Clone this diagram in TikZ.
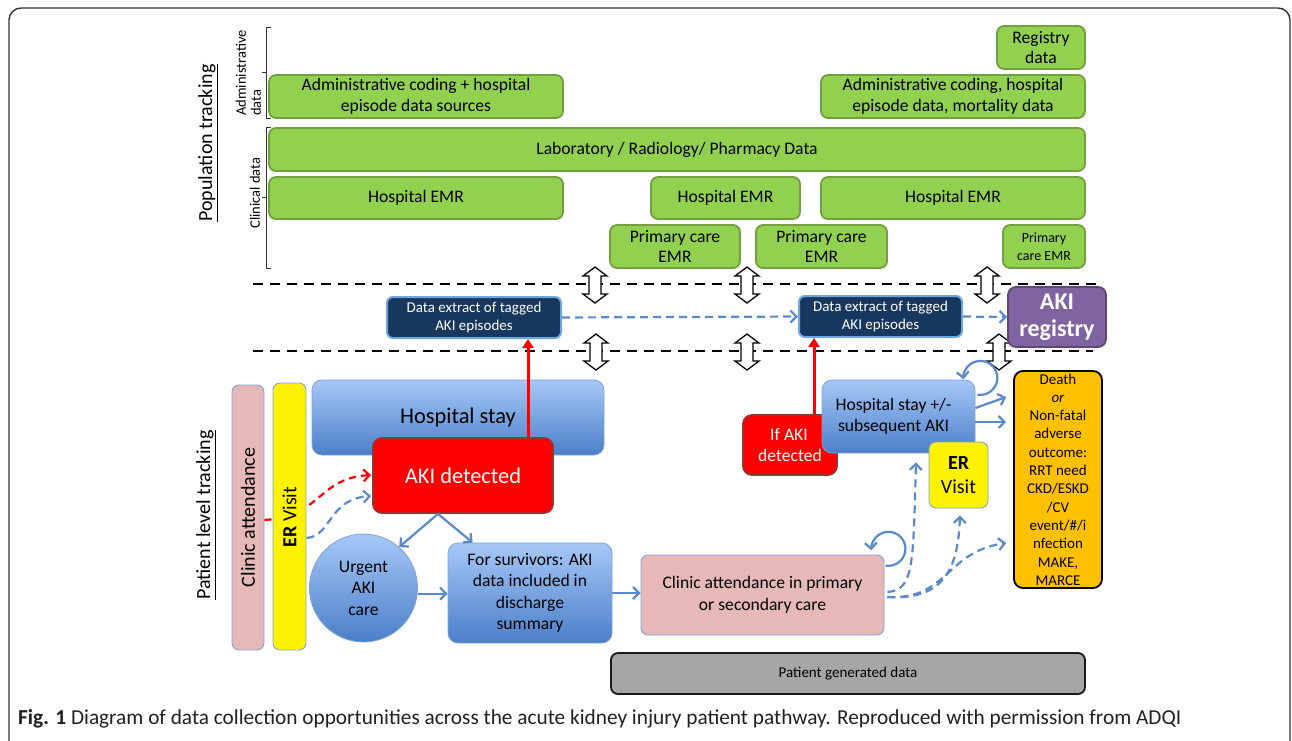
\documentclass[tikz,border=0pt]{standalone}
\usepackage{fontspec}
\setmainfont{Carlito}
\usetikzlibrary{arrows.meta}
\definecolor{ggreen}{HTML}{92D050}
\definecolor{gborder}{HTML}{72A03C}
\definecolor{navy}{HTML}{17375E}
\definecolor{navyborder}{HTML}{6FA7DC}
\definecolor{purp}{HTML}{8064A2}
\definecolor{purpborder}{HTML}{5C4776}
\definecolor{redborder}{HTML}{943634}
\definecolor{pinkfill}{HTML}{E6B9B8}
\definecolor{lightborder}{HTML}{7FA3D6}
\definecolor{bluetop}{HTML}{A6C8F7}
\definecolor{bluebot}{HTML}{4B7FC9}
\definecolor{cblue}{HTML}{5A8ACB}
\definecolor{orangefill}{HTML}{FFC000}
\definecolor{greyfill}{HTML}{A6A6A6}
\definecolor{framecol}{HTML}{333333}
\definecolor{captxt}{HTML}{231F20}
\begin{document}
\begin{tikzpicture}[x=1pt,y=1pt,
  gbox/.style={draw=gborder, fill=ggreen, line width=1.8pt, rounded corners=7pt, inner sep=0pt, align=center, font=\fontsize{17.6}{20.5}\selectfont},
  navybox/.style={draw=navyborder, fill=navy, line width=2pt, rounded corners=6pt, inner sep=0pt, align=center, text=white, font=\fontsize{15}{18}\selectfont},
  bluebox/.style={draw=lightborder, line width=0.8pt, top color=bluetop, bottom color=bluebot, rounded corners=10pt, inner sep=0pt, align=center, font=\fontsize{17.6}{21.5}\selectfont},
  redbox/.style={draw=redborder, fill=red, line width=1.8pt, rounded corners=9pt, inner sep=0pt, align=center, text=white},
  pinkbox/.style={draw=lightborder, fill=pinkfill, line width=0.9pt, rounded corners=7pt, inner sep=0pt, align=center},
  yelbox/.style={draw=lightborder, fill=yellow, line width=0.9pt, rounded corners=7pt, inner sep=0pt, align=center},
  sidelabel/.style={rotate=90, inner sep=0pt, font=\fontsize{20}{24}\selectfont},
  smalllabel/.style={rotate=90, inner sep=0pt, font=\fontsize{14.5}{15}\selectfont},
  brk/.style={draw=framecol, line width=0.9pt},
  blkdash/.style={draw=black, line width=2.6pt, dash pattern=on 10pt off 7pt},
  bline/.style={draw=cblue, line width=2.2pt, -{Straight Barb[length=6pt,width=12pt]}},
  bdash/.style={bline, dash pattern=on 8pt off 5pt},
  redarr/.style={draw=red, line width=3pt, -{Triangle[length=9pt,width=11pt]}},
  reddash/.style={draw=red, line width=2.2pt, dash pattern=on 7pt off 5pt, -{Straight Barb[length=6pt,width=12pt]}},
  dbl/.pic={\draw[line width=1.3pt, fill=white] (0,18) -- (12,9) -- (6,9) -- (6,-9) -- (12,-9) -- (0,-18) -- (-12,-9) -- (-6,-9) -- (-6,9) -- (-12,9) -- cycle;}
]
\useasboundingbox (0,0) rectangle (1292,-740);
% outer frame
\draw[draw=framecol, line width=1.4pt, rounded corners=12pt] (9,-8) rectangle (1290,-780);

% side labels and brackets
\node[sidelabel] (poptrack) at (208,-143) {\underline{Population tracking}};
\node[sidelabel] (pattrack) at (206,-515) {\underline{Patient level tracking}};
\node[smalllabel, align=left] (admlabel) at (248.5,-73) {Administrative\\data};
\node[smalllabel] (clinlabel) at (255,-193) {Clinical data};
\draw[brk] (271,-27) -- (266,-27) -- (266,-118) -- (271,-118) (266,-72) -- (262,-72);
\draw[brk] (271,-127) -- (266,-127) -- (266,-268) -- (271,-268) (266,-197) -- (262,-197);

% green data boxes
\node[gbox, minimum width=294pt, minimum height=43pt] (adm1) at (416,-96.5) {Administrative coding + hospital\\episode data sources};
\node[gbox, minimum width=816pt, minimum height=43pt] (lab) at (677,-149.5) {Laboratory / Radiology/ Pharmacy Data};
\node[gbox, minimum width=294pt, minimum height=42pt] (emr1) at (416,-198) {Hospital EMR};
\node[gbox, minimum width=149pt, minimum height=42pt] (emr2) at (725.5,-198) {Hospital EMR};
\node[gbox, minimum width=264pt, minimum height=42pt] (emr3) at (953,-198) {Hospital EMR};
\node[gbox, minimum width=130pt, minimum height=43pt] (pc1) at (675,-246.5) {Primary care\\EMR};
\node[gbox, minimum width=131pt, minimum height=43pt] (pc2) at (821.5,-246.5) {Primary care\\EMR};
\node[gbox, minimum width=82pt, minimum height=43pt, font=\fontsize{14}{18.5}\selectfont] (pc3) at (1044,-246.5) {Primary\\care EMR};
\node[gbox, minimum width=88pt, minimum height=43pt] (reg) at (1041,-47.5) {Registry\\data};
\node[gbox, minimum width=264pt, minimum height=43pt] (adm2) at (953,-96.5) {Administrative coding, hospital\\episode data, mortality data};

% dashed separator lines
\draw[blkdash] (253,-284) -- (1097,-284);
\draw[blkdash] (253,-351) -- (1093,-351);

% double arrows
\pic (da1) at (595,-285) {dbl};
\pic (da2) at (747,-285) {dbl};
\pic (da3) at (987,-285) {dbl};
\pic (da4) at (596,-352) {dbl};
\pic (da5) at (747,-352) {dbl};
\pic (da6) at (999,-352) {dbl};

% extraction boxes and registry
\node[navybox, minimum width=174pt, minimum height=41pt] (ext1) at (474,-317.5) {Data extract of tagged\\AKI episodes};
\node[navybox, minimum width=163pt, minimum height=41pt] (ext2) at (880.5,-316.5) {Data extract of tagged\\AKI episodes};
\node[draw=purpborder, fill=purp, line width=1.8pt, rounded corners=8pt, inner sep=0pt, align=center, text=white, font=\bfseries\fontsize{24}{27}\selectfont, minimum width=98pt, minimum height=60pt] (reg2) at (1057,-317) {AKI\\registry};
\draw[bdash] (ext1.east) -- (ext2.west);
\draw[bdash] (ext2.east) -- (reg2.west);

% patient level: left columns
\node[pinkbox, minimum width=32pt, minimum height=265pt] (clin) at (248,-517.5) {};
\node[sidelabel] (clintext) at (248,-517.5) {Clinic attendance};
\draw[reddash] ([yshift=-2.5pt]clin.east) .. controls (322,-516) and (318,-478) .. (371,-475);
\node[yelbox, minimum width=33pt, minimum height=267pt] (er1) at (289.5,-516.5) {};
\node[sidelabel] (er1text) at (289.5,-517) {\textbf{ER} Visit};
\draw[bdash] ([yshift=-21.5pt]er1.east) .. controls (332,-536) and (328,-499) .. (371,-496);

% hospital stay and AKI detected
\node[bluebox, minimum width=292pt, minimum height=75pt, font=\fontsize{22.4}{26}\selectfont] (hs1) at (458,-417.5) {Hospital stay};
\node[redbox, minimum width=180pt, minimum height=75pt, font=\fontsize{22.4}{26}\selectfont] (aki) at (463,-475.5) {AKI detected};
\draw[redarr] ([xshift=65pt]aki.north) -- ([xshift=54pt]ext1.south);

\node[circle, draw=lightborder, line width=0.8pt, top color=bluetop, bottom color=bluebot, inner sep=0pt, minimum size=108pt, align=center, font=\fontsize{17.6}{21.5}\selectfont] (urg) at (363.5,-588) {Urgent\\AKI\\care};
\node[bluebox, minimum width=164pt, minimum height=100pt] (surv) at (530,-593) {For survivors: AKI\\data included in\\discharge\\summary};
\draw[bline] ([xshift=-25pt]aki.south) -- (urg.49);
\draw[bline] ([xshift=-25pt]aki.south) -- ([xshift=25pt]surv.north west);
\draw[bline] (urg.-6) -- (urg.-6 -| surv.west);

% right side
\node[redbox, minimum width=94pt, minimum height=60pt, font=\fontsize{17.6}{21}\selectfont] (ifaki) at (790,-445) {\hspace*{-2pt}If AKI\\detected};
\draw[redarr] ([xshift=24pt]ifaki.north) -- ([xshift=-66.5pt]ext2.south);
\node[bluebox, minimum width=153pt, minimum height=73pt] (hs2) at (898.5,-416.5) {\hspace*{-10pt}Hospital stay +/-\\\hspace*{-10pt}subsequent AKI};
\node[yelbox, minimum width=59pt, minimum height=66pt, font=\fontsize{20}{24}\selectfont] (er2) at (958.5,-475) {\textbf{ER}\\Visit};
\draw[bline] ([shift={(2pt,-15pt)}]hs2.north east) arc[start angle=-100, end angle=185, radius=17];

\node[draw=black, fill=orangefill, line width=1.8pt, rounded corners=9pt, inner sep=0pt, align=center, minimum width=88pt, minimum height=217pt, font=\fontsize{15}{18.3}\selectfont] (death) at (1058,-479.5) {Death\\\textit{or}\\Non-fatal\\adverse\\outcome:\\RRT need\\CKD/ESKD\\/CV\\event/\#/i\\nfection\\MAKE,\\MARCE};
\draw[bline] ([yshift=8.5pt]hs2.east) -- ([shift={(-7pt,82.5pt)}]death.west);
\draw[bline] ([yshift=-5.5pt]hs2.east) -- ([shift={(-7pt,57.5pt)}]death.west);

\node[pinkbox, minimum width=243pt, minimum height=80pt, font=\fontsize{17.6}{21.5}\selectfont] (clinic2) at (762.5,-595) {Clinic attendance in primary\\or secondary care};
\draw[bline] (surv.east) -- (surv.east -| clinic2.west);
\draw[bline] ([shift={(1pt,-11pt)}]clinic2.north east) arc[start angle=-100, end angle=185, radius=17];
\draw[bdash] ([shift={(3pt,3pt)}]clinic2.east) .. controls (914,-590) and (913,-565) .. ([shift={(17.5pt,-9pt)}]hs2.south);
\draw[bdash] ([shift={(3pt,-2pt)}]clinic2.east) .. controls (942,-600) and (958,-572) .. ([shift={(1.5pt,-7pt)}]er2.south);
\draw[bdash] ([shift={(3pt,-2pt)}]clinic2.east) .. controls (948,-600) and (945,-552) .. ([shift={(-7pt,-63.5pt)}]death.west);

\node[draw=black!90, fill=greyfill, line width=1.8pt, rounded corners=7pt, inner sep=0pt, minimum width=474pt, minimum height=41pt, font=\fontsize{15}{18}\selectfont] (pgd) at (848,-673.5) {Patient generated data};

% caption
\node[anchor=west, inner sep=0pt, text=captxt, font=\fontsize{21.3}{24}\selectfont] (cap) at (18,-719) {\textbf{Fig. 1} Diagram of data collection opportunities across the acute kidney injury patient pathway. Reproduced with permission from ADQI};
\end{tikzpicture}
\end{document}
